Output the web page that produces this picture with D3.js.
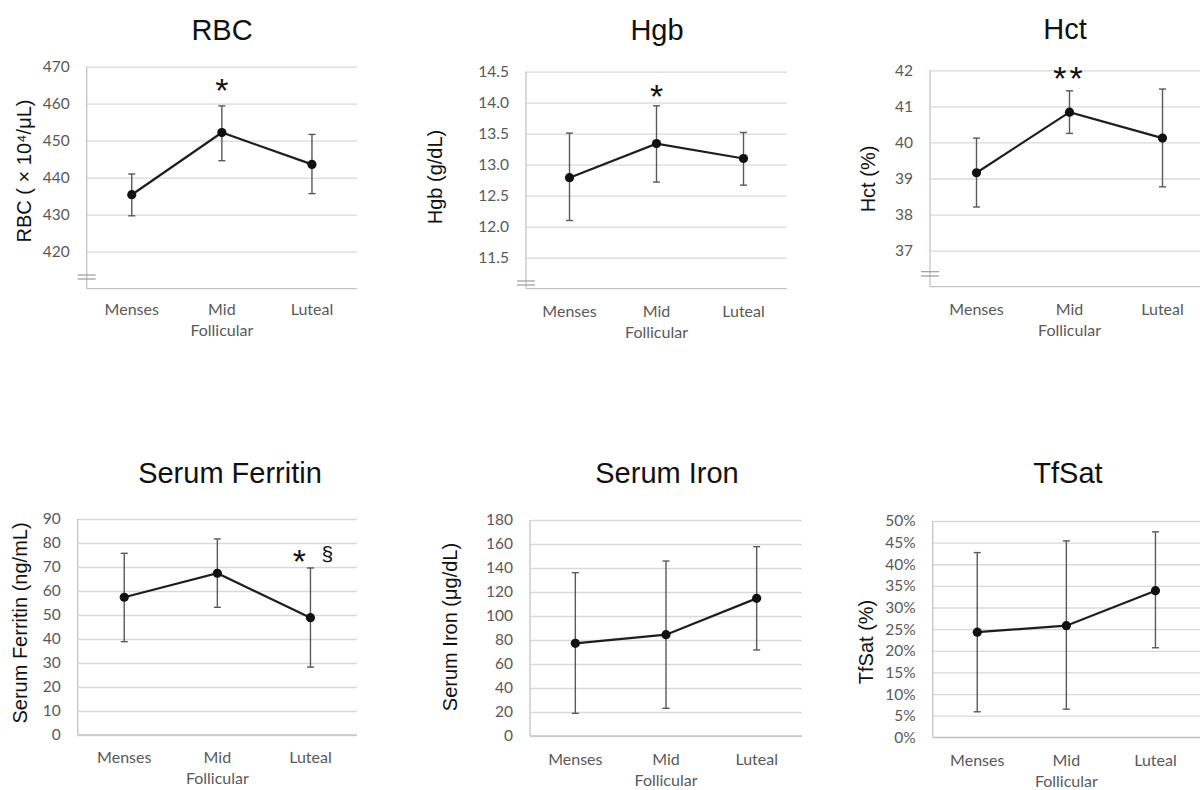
<!DOCTYPE html>
<html><head><meta charset="utf-8">
<script src="https://cdn.jsdelivr.net/npm/d3@7"></script>
<style>body{margin:0;background:#fff} svg{display:block}</style>
</head><body>
<svg id="c" width="1200" height="790"></svg>
<script>
// ---------- data ----------
const phases = ["Menses", "Mid Follicular", "Luteal"];

const rbcMean = [435.4, 452.2, 443.6];
const rbcLow  = [429.7, 444.6, 435.7];
const rbcHigh = [441.0, 459.4, 451.7];
const rbcTicks = [420, 430, 440, 450, 460, 470];

const hgbMean = [12.79, 13.34, 13.10];
const hgbLow  = [12.10, 12.72, 12.67];
const hgbHigh = [13.51, 13.95, 13.52];
const hgbTicks = [11.5, 12.0, 12.5, 13.0, 13.5, 14.0, 14.5];

const hctMean = [39.16, 40.84, 40.12];
const hctLow  = [38.21, 40.25, 38.77];
const hctHigh = [40.12, 41.43, 41.48];
const hctTicks = [37, 38, 39, 40, 41, 42];

const ferritinMean = [57.4, 67.4, 48.9];
const ferritinLow  = [38.9, 53.2, 28.3];
const ferritinHigh = [75.7, 81.7, 69.6];
const ferritinTicks = [0, 10, 20, 30, 40, 50, 60, 70, 80, 90];

const ironMean = [77.2, 84.4, 114.7];
const ironLow  = [18.9, 23.1, 71.7];
const ironHigh = [136.1, 145.8, 157.8];
const ironTicks = [0, 20, 40, 60, 80, 100, 120, 140, 160, 180];

const tsatMean = [0.243, 0.258, 0.339];
const tsatLow  = [0.059, 0.065, 0.207];
const tsatHigh = [0.427, 0.454, 0.475];
const tsatTicks = [0, 0.05, 0.10, 0.15, 0.20, 0.25, 0.30, 0.35, 0.40, 0.45, 0.50];

// significance marks: phase, symbol, value-level
const rbcMarks = [{phase: "Mid Follicular", sym: "*", at: 466}];
const hgbMarks = [{phase: "Mid Follicular", sym: "*", at: 14.24}];
const hctMarks = [{phase: "Mid Follicular", sym: "**", at: 42.0}];
const ferritinMarks = [{phase: "Luteal", sym: "*", at: 75.8, dx: -11}, {phase: "Luteal", sym: "§", at: 75.8, dx: 17}];

// ---------- drawing ----------
const svg = d3.select("#c");
const TICKFONT = "Lato, 'Open Sans', sans-serif";
const ARIAL = "'Liberation Sans', Arial, sans-serif";

function panel(cfg) {
  const g = svg.append("g");
  const x = d3.scaleBand().domain(phases).range([cfg.left, cfg.right]);
  const y = d3.scaleLinear().domain(cfg.domain).range([cfg.bottom, cfg.top]);
  const cx = p => x(p) + x.bandwidth() / 2;

  // grid + tick labels
  const ax = g.append("g").attr("transform", `translate(${cfg.left},0)`)
    .call(d3.axisLeft(y).tickValues(cfg.ticks).tickFormat(cfg.fmt)
      .tickSize(-(cfg.right - cfg.left)).tickPadding(17));
  ax.select(".domain").remove();
  ax.selectAll(".tick line").attr("stroke", "#d9d9d9").attr("stroke-width", 1.3);
  ax.selectAll(".tick text").attr("fill", "#595959")
    .style("font-family", TICKFONT).style("font-size", "15.5px");

  // axis lines
  g.append("line").attr("x1", cfg.left).attr("x2", cfg.left)
    .attr("y1", cfg.top).attr("y2", cfg.bottom).attr("stroke", "#c4c4c4").attr("stroke-width", 1.3);
  g.append("line").attr("x1", cfg.left).attr("x2", cfg.right)
    .attr("y1", cfg.bottom).attr("y2", cfg.bottom).attr("stroke", "#c4c4c4").attr("stroke-width", 1.3);

  // axis break
  if (cfg.brk) {
    cfg.brk.forEach(dy => {
      g.append("line").attr("x1", cfg.left - 9).attr("x2", cfg.left + 9)
        .attr("y1", cfg.bottom - dy).attr("y2", cfg.bottom - dy)
        .attr("stroke", "#9a9a9a").attr("stroke-width", 1.2);
    });
  }

  // x labels
  phases.forEach(p => {
    const words = p.split(" ");
    const t = g.append("text").attr("x", cx(p)).attr("y", cfg.bottom + cfg.xlab)
      .attr("text-anchor", "middle").attr("fill", "#595959")
      .style("font-family", TICKFONT).style("font-size", "16px");
    words.forEach((w, i) => t.append("tspan").attr("x", cx(p)).attr("dy", i === 0 ? 0 : 21).text(w));
  });

  // error bars
  phases.forEach((p, i) => {
    const xx = cx(p);
    g.append("line").attr("x1", xx).attr("x2", xx)
      .attr("y1", y(cfg.low[i])).attr("y2", y(cfg.high[i]))
      .attr("stroke", "#595959").attr("stroke-width", 1.4);
    [cfg.low[i], cfg.high[i]].forEach(v => {
      g.append("line").attr("x1", xx - 3.5).attr("x2", xx + 3.5)
        .attr("y1", y(v)).attr("y2", y(v))
        .attr("stroke", "#595959").attr("stroke-width", 1.4);
    });
  });

  // line + markers
  const line = d3.line().x((d, i) => cx(phases[i])).y(d => y(d));
  g.append("path").datum(cfg.mean).attr("d", line)
    .attr("fill", "none").attr("stroke", "#1e1e1e").attr("stroke-width", 2.2);
  g.selectAll("circle.m").data(cfg.mean).join("circle")
    .attr("cx", (d, i) => cx(phases[i])).attr("cy", d => y(d)).attr("r", 4.6)
    .attr("fill", "#111");

  // significance marks
  (cfg.marks || []).forEach(m => {
    if (m.sym === "§") {
      g.append("text").attr("x", cx(m.phase) + (m.dx || 0)).attr("y", y(m.at) + 8)
        .attr("text-anchor", "middle").attr("fill", "#111")
        .style("font-family", ARIAL).style("font-size", "21px").text(m.sym);
    } else {
      g.append("text").attr("x", cx(m.phase) + (m.dx || 0)).attr("y", y(m.at) + 20)
        .attr("text-anchor", "middle").attr("fill", "#111")
        .attr("letter-spacing", m.sym.length > 1 ? 3 : 0)
        .style("font-family", ARIAL).style("font-size", "34px").text(m.sym);
    }
  });

  // title
  g.append("text").attr("x", cfg.titleX).attr("y", cfg.titleY)
    .attr("text-anchor", "middle").attr("fill", "#111")
    .style("font-family", ARIAL).style("font-size", "29px").text(cfg.title);

  // y label
  g.append("text").attr("transform", `translate(${cfg.ylabX},${cfg.ylabY}) rotate(-90)`)
    .attr("text-anchor", "middle").attr("dy", "0.35em").attr("fill", "#111")
    .style("font-family", ARIAL).style("font-size", "20px").text(cfg.ylabel);
}

panel({title: "RBC", ylabel: "RBC ( × 10⁴/μL)", mean: rbcMean, low: rbcLow, high: rbcHigh,
  ticks: rbcTicks, fmt: d3.format("d"), domain: [410, 470], marks: rbcMarks,
  left: 86.7, right: 357, top: 66.7, bottom: 288.7, brk: [13.7, 9.7], xlab: 26,
  titleX: 222, titleY: 40, ylabX: 24, ylabY: 171});

panel({title: "Hgb", ylabel: "Hgb (g/dL)", mean: hgbMean, low: hgbLow, high: hgbHigh,
  ticks: hgbTicks, fmt: d3.format(".1f"), domain: [11.0, 14.5], marks: hgbMarks,
  left: 526, right: 787, top: 71.7, bottom: 288.7, brk: [7.7, 3.7], xlab: 28,
  titleX: 657, titleY: 40, ylabX: 435, ylabY: 177});

panel({title: "Hct", ylabel: "Hct (%)", mean: hctMean, low: hctLow, high: hctHigh,
  ticks: hctTicks, fmt: d3.format("d"), domain: [36, 42], marks: hctMarks,
  left: 930, right: 1209, top: 70.3, bottom: 286.7, brk: [15, 10.7], xlab: 28,
  titleX: 1065, titleY: 39, ylabX: 868, ylabY: 179});

panel({title: "Serum Ferritin", ylabel: "Serum Ferritin (ng/mL)", mean: ferritinMean, low: ferritinLow, high: ferritinHigh,
  ticks: ferritinTicks, fmt: d3.format("d"), domain: [0, 90], marks: ferritinMarks,
  left: 77.7, right: 357, top: 519, bottom: 735, xlab: 28,
  titleX: 230, titleY: 483, ylabX: 20, ylabY: 623});

panel({title: "Serum Iron", ylabel: "Serum Iron (μg/dL)", mean: ironMean, low: ironLow, high: ironHigh,
  ticks: ironTicks, fmt: d3.format("d"), domain: [0, 180],
  left: 530, right: 802, top: 520, bottom: 736, xlab: 29,
  titleX: 667, titleY: 483, ylabX: 450, ylabY: 627});

panel({title: "TfSat", ylabel: "TfSat (%)", mean: tsatMean, low: tsatLow, high: tsatHigh,
  ticks: tsatTicks, fmt: d3.format(".0%"), domain: [0, 0.5],
  left: 932.7, right: 1200, top: 521, bottom: 737.3, xlab: 29,
  titleX: 1068, titleY: 483, ylabX: 866, ylabY: 642});
</script>
</body></html>
